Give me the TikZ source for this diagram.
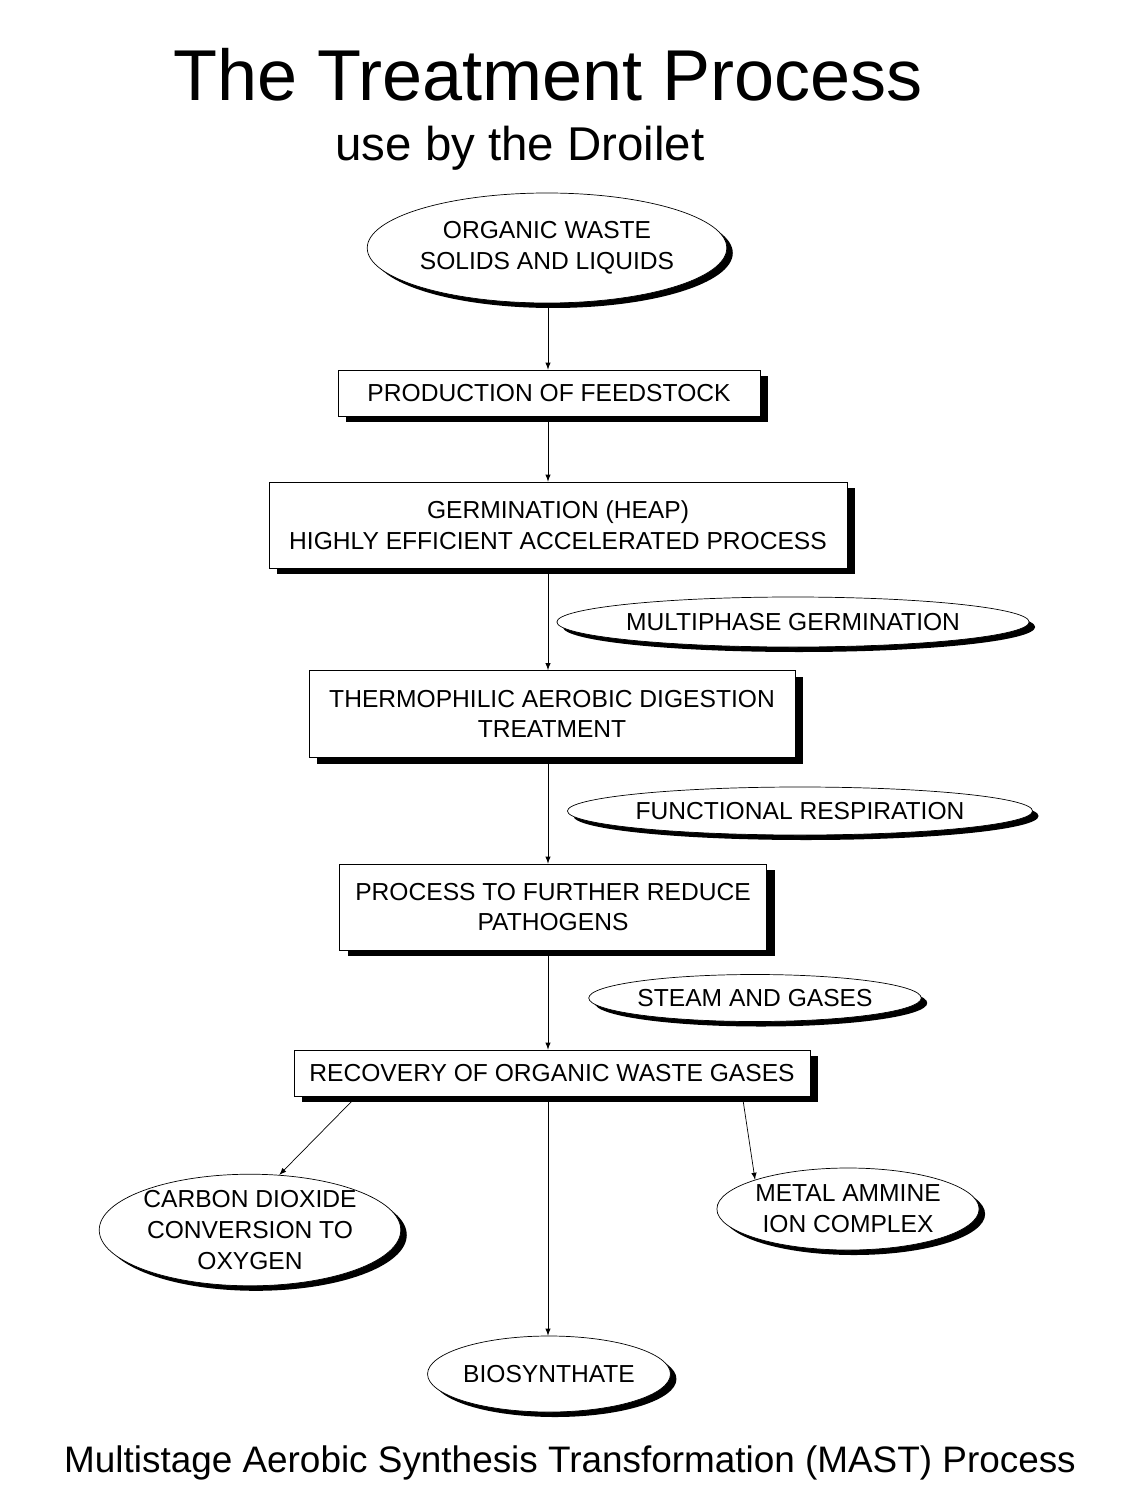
\documentclass[tikz,border=0pt]{standalone}
\usepackage{fontspec}
\setmainfont{Liberation Sans}
\usetikzlibrary{shapes.geometric,shadows,positioning}
\tikzset{
  stage/.style={draw, fill=white, inner sep=0pt, align=center,
    font=\fontsize{14}{17.5}\selectfont,
    drop shadow={fill=black, opacity=1, shadow xshift=0.16cm, shadow yshift=-0.12cm}},
  oval/.style={ellipse, draw, fill=white, inner sep=0pt, align=center,
    font=\fontsize{14}{17.5}\selectfont,
    drop shadow={fill=black, opacity=1, shadow xshift=0.12cm, shadow yshift=-0.1cm}},
  flow/.style={-latex, thin}
}
\begin{document}
\begin{tikzpicture}[x=0.02cm, y=-0.02cm]
\useasboundingbox (0,0) rectangle (1129,1500);
% titles
\node (title) at (548,75) {\fontsize{41}{48}\selectfont The Treatment Process};
\node (subtitle) at (520,148) {\fontsize{27}{32}\selectfont use by the Droilet};
\node (footer) at (570,1463) {\fontsize{21}{25}\selectfont Multistage Aerobic Synthesis Transformation (MAST) Process};
% main chain
\node[oval, minimum width=335*0.02cm, minimum height=110*0.02cm] (waste) at (547,248) {ORGANIC WASTE\\SOLIDS AND LIQUIDS};
\node[stage, minimum width=422*0.02cm, minimum height=46*0.02cm] (feed) at (549,393) {PRODUCTION OF FEEDSTOCK};
\node[stage, minimum width=578*0.02cm, minimum height=86*0.02cm] (germ) at (558,525) {GERMINATION (HEAP)\\HIGHLY EFFICIENT ACCELERATED PROCESS};
\node[stage, minimum width=486*0.02cm, minimum height=87*0.02cm] (thermo) at (552,714) {THERMOPHILIC AEROBIC DIGESTION\\TREATMENT};
\node[stage, minimum width=427*0.02cm, minimum height=86*0.02cm] (patho) at (553,907) {PROCESS TO FURTHER REDUCE\\PATHOGENS};
\node[stage, minimum width=516*0.02cm, minimum height=46*0.02cm] (recov) at (552,1073) {RECOVERY OF ORGANIC WASTE GASES};
% side notes
\node[oval, minimum width=390*0.02cm, minimum height=50*0.02cm] (multi) at (793,622) {MULTIPHASE GERMINATION};
\node[oval, minimum width=402*0.02cm, minimum height=48*0.02cm] (resp) at (800,811) {FUNCTIONAL RESPIRATION};
\node[oval, minimum width=308*0.02cm, minimum height=47*0.02cm] (steam) at (755,998) {STEAM AND GASES};
% outputs
\node[oval, minimum width=285*0.02cm, minimum height=108*0.02cm] (carbon) at (250,1230) {CARBON DIOXIDE\\CONVERSION TO\\OXYGEN};
\node[oval, minimum width=250*0.02cm, minimum height=82*0.02cm] (metal) at (848,1209) {METAL AMMINE\\ION COMPLEX};
\node[oval, minimum width=237*0.02cm, minimum height=76*0.02cm] (bio) at (549,1374) {BIOSYNTHATE};
% connectors
\coordinate (lft) at (353,1100);
\coordinate (rgt) at (743,1100);
\draw[flow] (waste.south -| 548,0) -- (feed.north -| 548,0);
\draw[flow] (feed.south -| 548,0) -- (germ.north -| 548,0);
\draw[flow] (germ.south -| 548,0) -- (thermo.north -| 548,0);
\draw[flow] (thermo.south -| 548,0) -- (patho.north -| 548,0);
\draw[flow] (patho.south -| 548,0) -- (recov.north -| 548,0);
\draw[flow] (recov.south -| 548,0) -- (bio.north -| 548,0);
\draw[flow] (lft) -- (carbon.62);
\draw[flow] (rgt) -- (metal.north west);
\end{tikzpicture}
\end{document}
